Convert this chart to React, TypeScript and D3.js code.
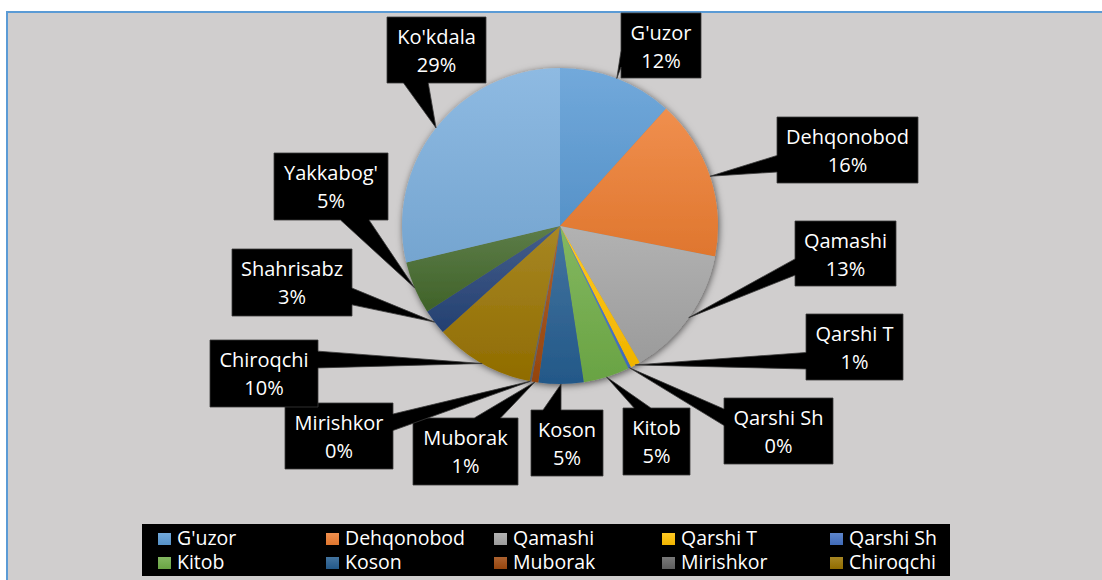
import React from "react";
import * as d3 from "d3";

// ---- Data ----
const districts: string[] = [
  "G'uzor", "Dehqonobod", "Qamashi", "Qarshi T", "Qarshi Sh", "Kitob", "Koson",
  "Muborak", "Mirishkor", "Chiroqchi", "Shahrisabz", "Yakkabog'", "Ko'kdala",
];
const shares: number[] = [11.7, 16.4, 13.49, 1.0, 0.3, 4.7, 4.6, 0.7, 0.2, 10.2, 2.6, 5.4, 28.7];
const legendCount = 10; // legend shows the first ten categories

// ---- Styles ----
const colors: string[] = [
  "#5B9BD5", "#ED7D31", "#A5A5A5", "#FFC000", "#4472C4", "#70AD47", "#255E91",
  "#9E480E", "#636363", "#997300", "#264478", "#43682B", "#7CAFDD",
];

// label box layout [left, top, width, height]
const labelBoxes: [number, number, number, number][] = [
  [621, 13, 80, 65],
  [777, 117, 141, 66],
  [795, 221, 101, 65],
  [806, 314, 97, 66],
  [724, 398, 109, 66],
  [623, 408, 67, 67],
  [531, 410, 72, 66],
  [413, 418, 105, 67],
  [285, 403, 108, 66],
  [210, 340, 108, 67],
  [232, 249, 120, 67],
  [274, 153, 114, 67],
  [387, 17, 99, 66],
];

const W = 1102;
const H = 580;
const CX = 560;
const CY = 226;
const R = 158;
const FONT = "'Open Sans', Lato, 'DejaVu Sans', sans-serif";

function calloutPath(x: number, y: number, w: number, h: number, tx: number, ty: number): string {
  const cx = x + w / 2;
  const cy = y + h / 2;
  const dx = tx - cx;
  const dy = ty - cy;
  const inside = tx >= x && tx <= x + w && ty >= y && ty <= y + h;
  if (inside) return `M${x},${y}H${x + w}V${y + h}H${x}Z`;
  if (Math.abs(dx) * h > Math.abs(dy) * w) {
    const y1 = dy < 0 ? y + (h * 2) / 12 : y + (h * 7) / 12;
    const y2 = dy < 0 ? y + (h * 5) / 12 : y + (h * 10) / 12;
    if (dx > 0) {
      return `M${x},${y}L${x + w},${y}L${x + w},${y1}L${tx},${ty}L${x + w},${y2}L${x + w},${y + h}L${x},${y + h}Z`;
    }
    return `M${x},${y}L${x + w},${y}L${x + w},${y + h}L${x},${y + h}L${x},${y2}L${tx},${ty}L${x},${y1}Z`;
  }
  const x1 = dx < 0 ? x + (w * 2) / 12 : x + (w * 7) / 12;
  const x2 = dx < 0 ? x + (w * 5) / 12 : x + (w * 10) / 12;
  if (dy < 0) {
    return `M${x},${y}L${x1},${y}L${tx},${ty}L${x2},${y}L${x + w},${y}L${x + w},${y + h}L${x},${y + h}Z`;
  }
  return `M${x},${y}L${x + w},${y}L${x + w},${y + h}L${x2},${y + h}L${tx},${ty}L${x1},${y + h}L${x},${y + h}Z`;
}

export default function App() {
  const total = d3.sum(shares);
  const pie = d3.pie<number>().sort(null).value((d) => d);
  const arcs = pie(shares);
  const arcGen = d3.arc<d3.PieArcDatum<number>>().innerRadius(0).outerRadius(R);

  const lighter = (c: string) => d3.interpolateRgb(c, "#ffffff")(0.14);
  const darker = (c: string) => d3.interpolateRgb(c, "#000000")(0.06);

  const legendX = d3.scalePoint<number>().domain(d3.range(5)).range([158, 830]);
  const legendY = d3.scalePoint<number>().domain([0, 1]).range([533, 557]);

  return (
    <svg width={W} height={H} style={{ position: "absolute", left: 0, top: 0 }}>
      <defs>
        {colors.map((c, i) => (
          <linearGradient key={i} id={`g${i}`} x1="0" y1="0" x2="0" y2="1">
            <stop offset="0" stopColor={lighter(c)} />
            <stop offset="1" stopColor={darker(c)} />
          </linearGradient>
        ))}
        <filter id="shadow" x="-20%" y="-20%" width="140%" height="140%">
          <feDropShadow dx="1" dy="1.5" stdDeviation="3.5" floodColor="#000" floodOpacity="0.6" />
        </filter>
      </defs>
      <rect x={0} y={0} width={W} height={H} fill="#ffffff" />
      <rect x={7} y={12} width={W + 10} height={H + 10} fill="#D0CECE" stroke="#5B9BD5" strokeWidth={2} />

      <g transform={`translate(${CX},${CY})`} filter="url(#shadow)">
        {arcs.map((a, i) => (
          <path key={i} d={arcGen(a) || ""} fill={`url(#g${i})`} />
        ))}
      </g>

      {arcs.map((a, i) => {
        const mid = (a.startAngle + a.endAngle) / 2;
        const tx = CX + R * Math.sin(mid);
        const ty = CY - R * Math.cos(mid);
        const [bx, by, bw, bh] = labelBoxes[i];
        const pct = Math.round((shares[i] / total) * 100);
        return (
          <g key={i}>
            <path d={calloutPath(bx, by, bw, bh, tx, ty)} fill="#000" stroke="#3a3a3a" strokeWidth={0.8} />
            <text x={bx + bw / 2} y={by + 27} fill="#fff" fontFamily={FONT} fontSize={20} textAnchor="middle">
              {districts[i]}
            </text>
            <text x={bx + bw / 2} y={by + 55} fill="#fff" fontFamily={FONT} fontSize={20} textAnchor="middle">
              {`${pct}%`}
            </text>
          </g>
        );
      })}

      <rect x={142} y={524} width={808} height={52} fill="#000" />
      {districts.slice(0, legendCount).map((name, i) => {
        const col = i % 5;
        const row = Math.floor(i / 5);
        const mx = legendX(col) as number;
        const my = legendY(row) as number;
        return (
          <g key={name}>
            <rect x={mx} y={my} width={13} height={12} fill={`url(#g${i})`} />
            <text x={mx + 19} y={my + 12} fill="#fff" fontFamily={FONT} fontSize={19.5}>
              {name}
            </text>
          </g>
        );
      })}
    </svg>
  );
}
